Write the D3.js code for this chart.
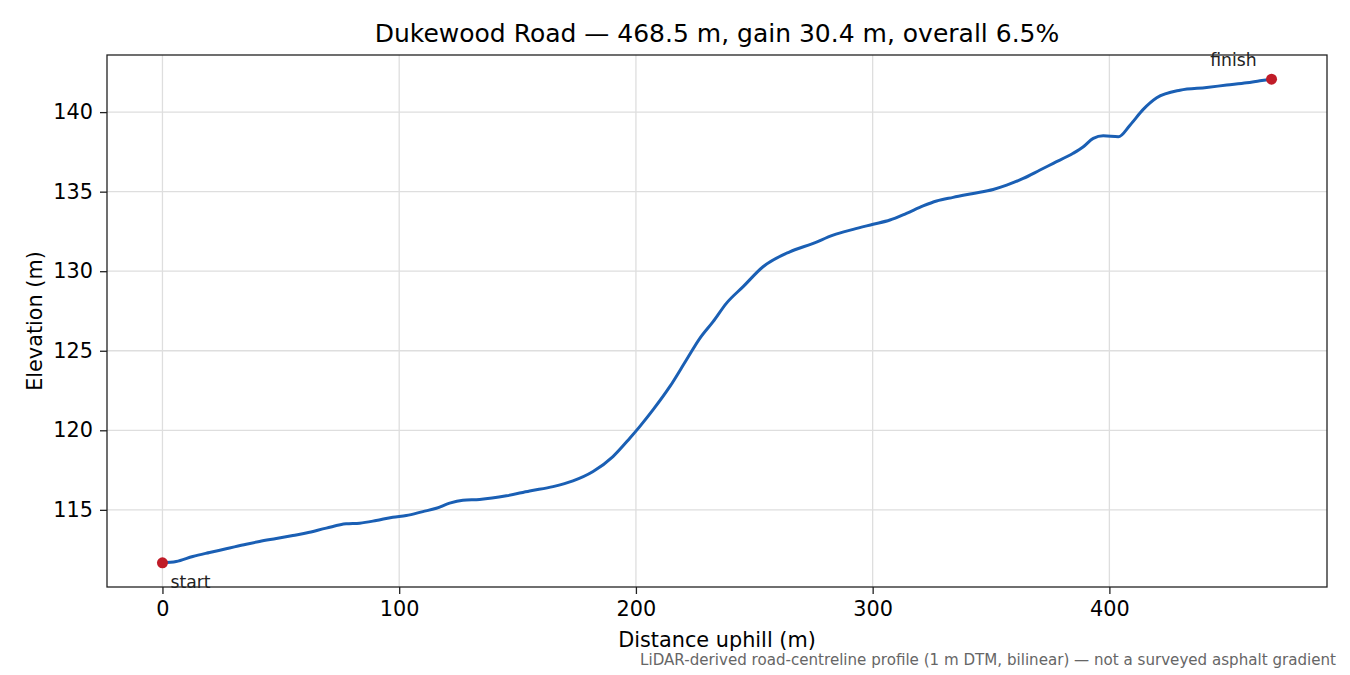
<!DOCTYPE html>
<html>
<head>
<meta charset="utf-8">
<script src="https://cdn.jsdelivr.net/npm/d3@7"></script>
<style>
  body { margin: 0; background: #fff; }
  svg { display: block; font-family: "DejaVu Sans", sans-serif; }
</style>
</head>
<body>
<div id="chart"></div>
<script>
// distance along road (m) and elevation (m)
var distances = [0, 5.8, 12.8, 19.9, 26.9, 35.4, 41, 48.1, 55.1, 60.7, 69.2, 77.6, 83.3, 90.3, 97.3,
  103, 110, 115.7, 121.3, 126.9, 134, 145.3, 155.1, 165, 173.4, 181.9, 190.3, 197.4, 201.6, 207.2,
  214.3, 221.3, 227, 232.6, 238.2, 245.3, 253.7, 265, 274.9, 283.3, 291.8, 300.2, 307.3, 314.3,
  321.3, 327, 334, 342.5, 350.9, 356.6, 363.6, 370.7, 376.3, 384.7, 389, 393.2, 397.4, 403.8,
  408.7, 414.3, 420, 429.8, 441.1, 449.6, 458, 463.6, 468.5];
var elevations = [111.67, 111.75, 112.07, 112.32, 112.55, 112.84, 113.01, 113.2, 113.39, 113.54,
  113.85, 114.12, 114.16, 114.33, 114.54, 114.64, 114.89, 115.1, 115.42, 115.6, 115.65, 115.88,
  116.19, 116.46, 116.82, 117.41, 118.35, 119.5, 120.23, 121.28, 122.74, 124.42, 125.78, 126.83,
  127.98, 129.03, 130.28, 131.22, 131.75, 132.27, 132.63, 132.95, 133.22, 133.64, 134.1, 134.41,
  134.64, 134.89, 135.14, 135.41, 135.83, 136.36, 136.78, 137.41, 137.82, 138.35, 138.51, 138.45,
  139.18, 140.17, 140.9, 141.38, 141.55, 141.7, 141.84, 141.97, 142.07];
var xTicks = [0, 100, 200, 300, 400];
var yTicks = [115, 120, 125, 130, 135, 140];
var endLabels = ["start", "finish"];

var width = 1350, height = 675;
var margin = {top: 55, right: 23, bottom: 88, left: 107};
var w = width - margin.left - margin.right;
var h = height - margin.top - margin.bottom;

var data = distances.map(function (d, i) { return {dist: d, elev: elevations[i]}; });

var svg = d3.select("#chart").append("svg")
  .attr("width", width)
  .attr("height", height);

// matplotlib style 5% padding
var xExt = d3.extent(distances), yExt = d3.extent(elevations);
var xPad = (xExt[1] - xExt[0]) * 0.05, yPad = (yExt[1] - yExt[0]) * 0.05;
var x = d3.scaleLinear().domain([xExt[0] - xPad, xExt[1] + xPad]).range([0, w]);
var y = d3.scaleLinear().domain([yExt[0] - yPad, yExt[1] + yPad]).range([h, 0]);

var g = svg.append("g").attr("transform", "translate(" + margin.left + "," + margin.top + ")");

// grid
g.append("g").selectAll("line").data(xTicks).enter().append("line")
  .attr("x1", function (d) { return x(d); }).attr("x2", function (d) { return x(d); })
  .attr("y1", 0).attr("y2", h)
  .style("stroke", "#dedede").style("stroke-width", 1.3);
g.append("g").selectAll("line").data(yTicks).enter().append("line")
  .attr("y1", function (d) { return y(d); }).attr("y2", function (d) { return y(d); })
  .attr("x1", 0).attr("x2", w)
  .style("stroke", "#dedede").style("stroke-width", 1.3);

// profile line
var line = d3.line()
  .x(function (d) { return x(d.dist); })
  .y(function (d) { return y(d.elev); })
  .curve(d3.curveMonotoneX);

g.append("path")
  .datum(data)
  .style("fill", "none")
  .style("stroke", "#1a5fb4")
  .style("stroke-width", 3)
  .style("stroke-linejoin", "round")
  .attr("d", line);

// start / finish markers
var ends = [data[0], data[data.length - 1]];
g.selectAll("circle.end").data(ends).enter().append("circle")
  .attr("class", "end")
  .attr("cx", function (d) { return x(d.dist); })
  .attr("cy", function (d) { return y(d.elev); })
  .attr("r", 5.5)
  .style("fill", "#c01c28");

g.append("text")
  .attr("x", x(ends[0].dist) + 8)
  .attr("y", y(ends[0].elev) + 25)
  .style("font-size", "17.2px").style("fill", "#222")
  .text(endLabels[0]);
g.append("text")
  .attr("x", x(ends[1].dist) - 15)
  .attr("y", y(ends[1].elev) - 13)
  .attr("text-anchor", "end")
  .style("font-size", "17.2px").style("fill", "#222")
  .text(endLabels[1]);

// axes
var xAxis = g.append("g")
  .attr("transform", "translate(0," + h + ")")
  .call(d3.axisBottom(x).tickValues(xTicks).tickSize(7).tickPadding(7).tickFormat(d3.format("d")));
var yAxis = g.append("g")
  .call(d3.axisLeft(y).tickValues(yTicks).tickSize(7).tickPadding(7).tickFormat(d3.format("d")));

[xAxis, yAxis].forEach(function (a) {
  a.select(".domain").remove();
  a.selectAll("line").style("stroke", "#222").style("stroke-width", 1.3);
  a.selectAll("text").style("font-size", "20.8px").style("fill", "#000")
    .style("font-family", "DejaVu Sans, sans-serif");
});

// frame
g.append("rect")
  .attr("width", w).attr("height", h)
  .style("fill", "none").style("stroke", "#222").style("stroke-width", 1.3);

// labels
svg.append("text")
  .attr("x", margin.left + w / 2).attr("y", 42)
  .attr("text-anchor", "middle")
  .style("font-size", "25px").style("fill", "#000")
  .text("Dukewood Road \u2014 468.5 m, gain 30.4 m, overall 6.5%");

svg.append("text")
  .attr("x", margin.left + w / 2).attr("y", 647)
  .attr("text-anchor", "middle")
  .style("font-size", "20.8px").style("fill", "#000")
  .text("Distance uphill (m)");

svg.append("text")
  .attr("transform", "translate(42," + (margin.top + h / 2) + ") rotate(-90)")
  .attr("text-anchor", "middle")
  .style("font-size", "20.8px").style("fill", "#000")
  .text("Elevation (m)");

svg.append("text")
  .attr("x", 1336).attr("y", 665)
  .attr("text-anchor", "end")
  .style("font-size", "15.1px").style("fill", "#666")
  .text("LiDAR-derived road-centreline profile (1 m DTM, bilinear) \u2014 not a surveyed asphalt gradient");
</script>
</body>
</html>
